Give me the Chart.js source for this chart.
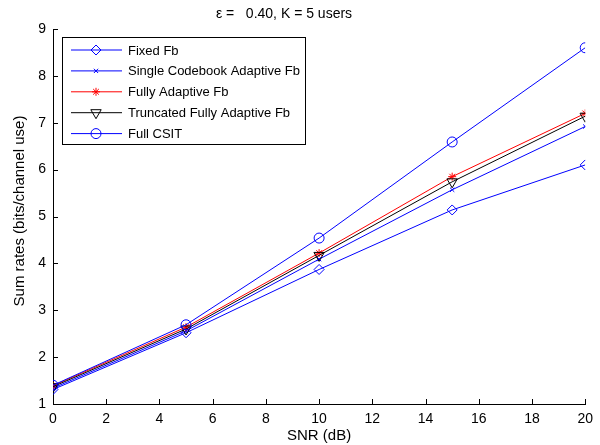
<!DOCTYPE html>
<html>
<head>
<meta charset="utf-8">
<script src="https://cdn.jsdelivr.net/npm/chart.js@4.4.0/dist/chart.umd.min.js"></script>
<style>
  html, body { margin: 0; padding: 0; background: #fff; }
  #wrap { width: 600px; height: 445px; }
</style>
</head>
<body>
<div id="wrap"><canvas id="c" width="600" height="445"></canvas></div>
<script>
// Data
const snr = [0, 5, 10, 15, 20];
const fixedFb = [1.31, 2.52, 3.87, 5.14, 6.10];
const singleCb = [1.34, 2.56, 4.09, 5.57, 6.92];
const fullyAdaptive = [1.39, 2.64, 4.22, 5.85, 7.20];
const truncated = [1.37, 2.60, 4.17, 5.74, 7.14];
const fullCsit = [1.40, 2.69, 4.54, 6.59, 8.60];

const xTicks = [0, 2, 4, 6, 8, 10, 12, 14, 16, 18, 20];
const yTicks = [1, 2, 3, 4, 5, 6, 7, 8, 9];

const FONT = 'Arial, "Liberation Sans", Helvetica, sans-serif';
const BLUE = '#0000ff';
const RED = '#ff0000';
const BLACK = '#000000';

const seriesDefs = [
    { label: 'Fixed Fb', data: fixedFb, color: BLUE, style: 'rectRot', radius: 5, rotation: 0 },
    { label: 'Single Codebook Adaptive Fb', data: singleCb, color: BLUE, style: 'crossRot', radius: 3, rotation: 0 },
    { label: 'Fully Adaptive Fb', data: fullyAdaptive, color: RED, style: 'star', radius: 4, rotation: 0 },
    { label: 'Truncated Fully Adaptive Fb', data: truncated, color: BLACK, style: 'triangle', radius: 6, rotation: 180 },
    { label: 'Full CSIT', data: fullCsit, color: BLUE, style: 'circle', radius: 5, rotation: 0 }
];

const datasets = seriesDefs.map((s, i) => ({
    label: s.label,
    data: s.data.map((v, j) => ({ x: snr[j], y: v })),
    borderColor: s.color,
    backgroundColor: 'transparent',
    borderWidth: 1,
    pointStyle: s.style,
    pointRadius: s.radius,
    pointRotation: s.rotation,
    pointBorderColor: s.color,
    pointBackgroundColor: 'rgba(0,0,0,0)',
    pointBorderWidth: 1,
    order: seriesDefs.length - i,
    tension: 0
}));

// title, axis titles, inward ticks and the MATLAB style legend
const matlabDecor = {
    id: 'matlabDecor',
    afterDraw(chart) {
        const ctx = chart.ctx;
        const xs = chart.scales.x, ys = chart.scales.y;
        const area = chart.chartArea;
        ctx.save();
        ctx.strokeStyle = BLACK;
        ctx.lineWidth = 1;
        ctx.beginPath();
        xTicks.forEach(t => {
            const px = Math.round(xs.getPixelForValue(t)) + 0.5;
            ctx.moveTo(px, area.bottom);
            ctx.lineTo(px, area.bottom - 5);
        });
        yTicks.forEach(t => {
            const py = Math.round(ys.getPixelForValue(t)) + 0.5;
            ctx.moveTo(area.left, py);
            ctx.lineTo(area.left + 5, py);
        });
        ctx.stroke();

        ctx.fillStyle = BLACK;
        ctx.font = '14px ' + FONT;
        ctx.textAlign = 'center';
        ctx.textBaseline = 'middle';
        ctx.fillText('\u03b5 =   0.40, K = 5 users', 284, 14);
        ctx.font = '15px ' + FONT;
        ctx.fillText('SNR (dB)', (area.left + area.right) / 2, 436);
        ctx.save();
        ctx.translate(20, 211);
        ctx.rotate(-Math.PI / 2);
        ctx.fillText('Sum rates (bits/channel use)', 0, 0);
        ctx.restore();

        // legend box
        const bx = 62.5, by = 37.5, bw = 243, bh = 107;
        ctx.fillStyle = '#fff';
        ctx.fillRect(bx, by, bw, bh);
        ctx.strokeRect(bx, by, bw, bh);
        ctx.font = '13px ' + FONT;
        ctx.textAlign = 'left';
        seriesDefs.forEach((s, i) => {
            const ry = 50 + i * 20.9;
            ctx.strokeStyle = s.color;
            ctx.lineWidth = 1;
            ctx.beginPath();
            ctx.moveTo(71, ry);
            ctx.lineTo(122, ry);
            ctx.stroke();
            ctx.fillStyle = 'rgba(0,0,0,0)';
            Chart.helpers.drawPoint(ctx, {
                pointStyle: s.style,
                radius: s.radius,
                rotation: s.rotation,
                borderWidth: 1
            }, 96, ry);
            ctx.fillStyle = BLACK;
            ctx.fillText(s.label, 128, ry + 1);
        });
        ctx.restore();
    }
};

new Chart(document.getElementById('c'), {
    type: 'line',
    data: { datasets },
    options: {
        responsive: false,
        animation: false,
        layout: { padding: { left: 0, right: 8, top: 29, bottom: 0 } },
        plugins: {
            legend: { display: false },
            tooltip: { enabled: false },
            title: { display: false }
        },
        scales: {
            x: {
                type: 'linear',
                min: 0,
                max: 20,
                afterFit: s => { s.height = 41; },
                afterBuildTicks: s => { s.ticks = xTicks.map(v => ({ value: v })); },
                grid: { display: false, drawTicks: false },
                border: { display: true, color: BLACK, width: 1 },
                ticks: { color: BLACK, font: { family: FONT, size: 14 }, padding: 7, maxRotation: 0, autoSkip: false }
            },
            y: {
                type: 'linear',
                min: 1,
                max: 9,
                afterFit: s => { s.width = 53; },
                afterBuildTicks: s => { s.ticks = yTicks.map(v => ({ value: v })); },
                grid: { display: false, drawTicks: false },
                border: { display: true, color: BLACK, width: 1 },
                ticks: { color: BLACK, font: { family: FONT, size: 14 }, padding: 7, autoSkip: false }
            }
        }
    },
    plugins: [matlabDecor]
});
</script>
</body>
</html>
